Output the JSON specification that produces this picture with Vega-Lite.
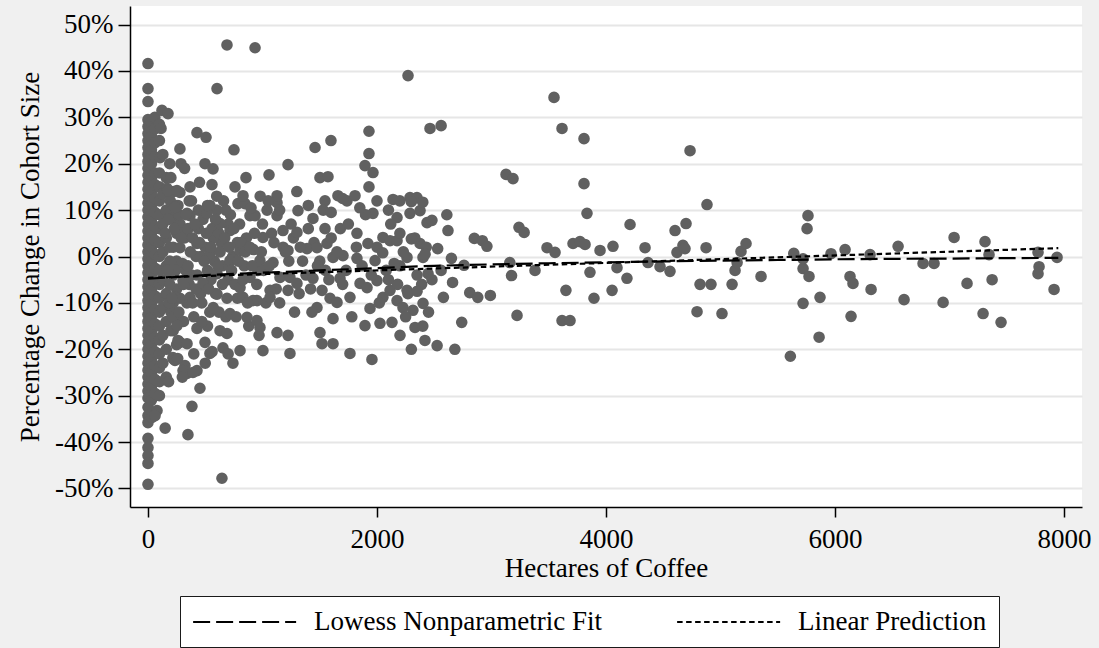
{
"$schema":"https://vega.github.io/schema/vega-lite/v6.json",
"width":952,"height":501,
"autosize":{"type":"none"},
"padding":{"left":130,"top":6,"right":17,"bottom":141},
"background":"#f0f0f0",
"config":{"view":{"fill":"white","stroke":null},"font":"Liberation Serif"},
"layer":[
{"data":{"values":[
{"x":0,"y":41.6},{"x":0,"y":36.2},{"x":0,"y":33.4},{"x":0,"y":29.5},{"x":0,"y":28},{"x":0,"y":26.5},{"x":0,"y":25},{"x":0,"y":23.5},{"x":0,"y":22},{"x":0,"y":20.5},{"x":0,"y":19},{"x":0,"y":17.5},{"x":0,"y":16},{"x":0,"y":14.5},{"x":0,"y":13},{"x":0,"y":11.5},{"x":0,"y":10},{"x":0,"y":8.5},{"x":0,"y":7},{"x":0,"y":5.5},{"x":0,"y":4},{"x":0,"y":2.5},{"x":0,"y":1},{"x":0,"y":-0.5},{"x":0,"y":-2},{"x":0,"y":-3.5},{"x":0,"y":-5},{"x":0,"y":-6.5},{"x":0,"y":-8},{"x":0,"y":-9.5},{"x":0,"y":-11},{"x":0,"y":-12.5},{"x":0,"y":-14},{"x":0,"y":-15.5},{"x":0,"y":-17},{"x":0,"y":-18.5},{"x":0,"y":-20},{"x":0,"y":-21.5},{"x":0,"y":-23},{"x":0,"y":-24.5},{"x":0,"y":-26},{"x":0,"y":-27.5},{"x":0,"y":-29},{"x":0,"y":-30.5},{"x":0,"y":-32.5},{"x":0,"y":-34.3},{"x":0,"y":-35.8},{"x":0,"y":-39.2},{"x":0,"y":-41.2},{"x":0,"y":-42.9},{"x":0,"y":-44.6},{"x":0,"y":-49.1},
{"x":30,"y":29},{"x":30,"y":26},{"x":30,"y":23},{"x":30,"y":20},{"x":30,"y":17},{"x":30,"y":14},{"x":30,"y":11},{"x":30,"y":8},{"x":30,"y":5},{"x":30,"y":2},{"x":30,"y":-1},{"x":30,"y":-4},{"x":30,"y":-7},{"x":30,"y":-10},{"x":30,"y":-13},{"x":30,"y":-16},{"x":30,"y":-19},{"x":30,"y":-22},{"x":30,"y":-25},{"x":30,"y":-28},{"x":30,"y":-31},{"x":35,"y":-34.7},
{"x":60,"y":30},{"x":60,"y":27.5},{"x":60,"y":24.5},{"x":60,"y":21.5},{"x":60,"y":18},{"x":60,"y":15.5},{"x":60,"y":12.5},{"x":60,"y":9.5},{"x":60,"y":6.5},{"x":60,"y":3.5},{"x":60,"y":0.5},{"x":60,"y":-2.5},{"x":60,"y":-5.5},{"x":60,"y":-8.5},{"x":60,"y":-11.5},{"x":60,"y":-14.5},{"x":60,"y":-17.5},{"x":60,"y":-20.5},{"x":60,"y":-23.5},{"x":60,"y":-26.5},{"x":60,"y":-29.5},{"x":79,"y":-33.2},{"x":62,"y":-34.3},
{"x":100,"y":28.5},{"x":100,"y":25},{"x":105,"y":21.3},{"x":100,"y":18},{"x":100,"y":15},{"x":100,"y":12},{"x":100,"y":9},{"x":100,"y":6},{"x":100,"y":3},{"x":100,"y":0},{"x":100,"y":-3},{"x":100,"y":-6},{"x":100,"y":-9},{"x":100,"y":-12},{"x":100,"y":-15},{"x":100,"y":-18},{"x":100,"y":-21},{"x":100,"y":-24},{"x":100,"y":-27},{"x":100,"y":-30},
{"x":122,"y":31.5},{"x":175,"y":30.8},{"x":114,"y":27.6},{"x":130,"y":22},{"x":160,"y":17},{"x":130,"y":13.5},{"x":160,"y":10},{"x":130,"y":7},{"x":160,"y":4},{"x":130,"y":1},{"x":160,"y":-2},{"x":130,"y":-5},{"x":160,"y":-8},{"x":130,"y":-11},{"x":160,"y":-14},{"x":130,"y":-17},{"x":160,"y":-20},{"x":130,"y":-23},{"x":160,"y":-26},{"x":150,"y":-37},
{"x":220,"y":14},{"x":250,"y":11},{"x":220,"y":8},{"x":250,"y":5},{"x":220,"y":2},{"x":250,"y":-1},{"x":220,"y":-4},{"x":250,"y":-7},{"x":220,"y":-10},{"x":250,"y":-13},{"x":220,"y":-16},{"x":250,"y":-19},{"x":220,"y":-22},
{"x":190,"y":20},{"x":200,"y":9.5},{"x":190,"y":-6},{"x":200,"y":-12},{"x":280,"y":7},{"x":300,"y":-1.5},{"x":320,"y":4},{"x":340,"y":-10},{"x":360,"y":12},{"x":380,"y":-4},{"x":420,"y":0},{"x":440,"y":10},{"x":460,"y":-8},{"x":480,"y":8},{"x":520,"y":-3},{"x":540,"y":-12},{"x":560,"y":6},{"x":580,"y":-1},{"x":600,"y":10},{"x":620,"y":-12},{"x":640,"y":3},{"x":660,"y":12},{"x":700,"y":-5},{"x":720,"y":9},{"x":740,"y":0},{"x":780,"y":-9},{"x":800,"y":7},{"x":840,"y":-2},{"x":860,"y":4},{"x":880,"y":-15},{"x":920,"y":1.5},{"x":960,"y":-3},{"x":1000,"y":7},{"x":1030,"y":-10},{"x":1080,"y":5},{"x":1120,"y":-7},{"x":1180,"y":2},{"x":1230,"y":-1},{"x":1270,"y":4},{"x":1320,"y":-8},{"x":1380,"y":-4},{"x":1450,"y":3},{"x":1500,"y":-1},{"x":1580,"y":-5},{"x":1680,"y":6},{"x":1730,"y":-3},
{"x":180,"y":8},{"x":190,"y":-1},{"x":185,"y":-10},{"x":200,"y":-16},{"x":195,"y":12},{"x":240,"y":-3},{"x":270,"y":9},{"x":280,"y":-9},{"x":300,"y":5},{"x":310,"y":-14},{"x":330,"y":-3},{"x":350,"y":6},{"x":360,"y":-6},{"x":390,"y":4},{"x":400,"y":-13},{"x":420,"y":-7},{"x":440,"y":6},{"x":460,"y":0},{"x":470,"y":-10},{"x":500,"y":2},{"x":520,"y":-15},{"x":550,"y":-5},{"x":570,"y":4},{"x":590,"y":-8},{"x":620,"y":5},{"x":650,"y":-2},{"x":680,"y":-13},{"x":700,"y":7},{"x":760,"y":-6},{"x":780,"y":3},
{"x":262,"y":11},{"x":541,"y":11},{"x":786,"y":11.4},{"x":847,"y":11.4},{"x":1127,"y":11.6},{"x":1310,"y":9.9},{"x":1441,"y":8.2},{"x":1546,"y":6},{"x":1546,"y":12},{"x":1738,"y":12},{"x":1965,"y":9.3},{"x":2175,"y":8.4},{"x":2288,"y":9.3},{"x":2376,"y":9.9},{"x":2437,"y":7.3},{"x":367,"y":8.8},{"x":515,"y":9.3},{"x":629,"y":7.1},{"x":716,"y":5.6},{"x":891,"y":8.8},{"x":935,"y":8.8},{"x":1004,"y":4.1},{"x":1127,"y":8.8},{"x":1179,"y":5.6},{"x":1301,"y":5.2},{"x":1223,"y":1.3},{"x":1389,"y":1.7},{"x":1476,"y":1.9},{"x":1563,"y":2.8},{"x":1616,"y":-0.2},{"x":1703,"y":0.2},{"x":1825,"y":-0.4},{"x":1921,"y":2.8},{"x":1983,"y":-0.9},{"x":2052,"y":4.1},{"x":2114,"y":3.4},{"x":2175,"y":3.4},{"x":2262,"y":-0.2},{"x":2376,"y":2.8},{"x":2402,"y":-0.2},{"x":2446,"y":-3.7},{"x":1825,"y":5},{"x":279,"y":1.9},{"x":428,"y":2.8},{"x":541,"y":0.6},{"x":716,"y":-0.9},{"x":804,"y":1.3},{"x":978,"y":-0.9},{"x":1092,"y":-1.3},{"x":1153,"y":-4.5},{"x":1240,"y":-4.5},{"x":1301,"y":-5.8},{"x":1223,"y":-7.3},{"x":1066,"y":-7.3},{"x":1066,"y":-8.8},{"x":1441,"y":-4.7},{"x":1520,"y":-7.3},{"x":1590,"y":-9},{"x":1476,"y":-11},{"x":1432,"y":-12},{"x":1651,"y":-9.9},{"x":1616,"y":-13.4},{"x":1677,"y":-4.7},{"x":1764,"y":-8.8},{"x":1852,"y":-5.8},{"x":1913,"y":-6.7},{"x":1939,"y":-11.2},{"x":2000,"y":-5.2},{"x":2052,"y":-8.8},{"x":2114,"y":-7.3},{"x":2175,"y":-9.5},{"x":2262,"y":-7.3},{"x":2227,"y":-11},{"x":2314,"y":-11.6},{"x":2402,"y":-10.1},{"x":1895,"y":-14.9},{"x":2026,"y":-14.4},{"x":2131,"y":-14.2},{"x":2201,"y":-17},{"x":2332,"y":-15.3},{"x":2419,"y":-18.1},{"x":1502,"y":-16.4},{"x":1520,"y":-18.8},{"x":1616,"y":-18.8},{"x":1764,"y":-20.9},{"x":1956,"y":-22.2},{"x":1240,"y":-20.9},{"x":1127,"y":-16.4},{"x":1223,"y":-17},{"x":1004,"y":-20.3},{"x":804,"y":-20.3},{"x":742,"y":-23},{"x":655,"y":-19.7},{"x":629,"y":-16},{"x":690,"y":-16.6},{"x":541,"y":-20.9},{"x":498,"y":-18.5},{"x":428,"y":-15.5},{"x":279,"y":-18.5},{"x":262,"y":-18.1},{"x":341,"y":-18.8},{"x":341,"y":-25.2},{"x":428,"y":-24.6},{"x":323,"y":-23.5},{"x":454,"y":-28.4},{"x":218,"y":-21.8},{"x":218,"y":-13.1},{"x":236,"y":-8.8},{"x":952,"y":-13.8},{"x":865,"y":-13.1},{"x":978,"y":-15.3},{"x":952,"y":-9.5},{"x":830,"y":-8.8},{"x":716,"y":-12.3},{"x":603,"y":-8.1},{"x":480,"y":-5.8},{"x":367,"y":-8.8},{"x":306,"y":-5.2},{"x":603,"y":-3.7},{"x":804,"y":-6.7},{"x":891,"y":-4.5},{"x":917,"y":-9.5},
{"x":279,"y":23.2},{"x":288,"y":20},{"x":428,"y":26.7},{"x":507,"y":25.7},{"x":498,"y":20},{"x":568,"y":18.9},{"x":559,"y":15.5},{"x":603,"y":36.2},{"x":690,"y":45.6},{"x":935,"y":45},{"x":751,"y":23},{"x":856,"y":17},{"x":1057,"y":17.6},{"x":1223,"y":19.8},{"x":1459,"y":23.5},{"x":1598,"y":25},{"x":1502,"y":17},{"x":1572,"y":17.2},{"x":1930,"y":27},{"x":1930,"y":22.2},{"x":1895,"y":19.6},{"x":1965,"y":18.1},{"x":1930,"y":15},{"x":2271,"y":39},{"x":2463,"y":27.6},{"x":1659,"y":13.1},{"x":1808,"y":13.1},{"x":2140,"y":12.3},{"x":2288,"y":12.7},{"x":2349,"y":12.7},{"x":1127,"y":13.1},{"x":830,"y":13.1},{"x":166,"y":14.7},{"x":279,"y":13.8},{"x":367,"y":15},
{"x":384,"y":-32.3},{"x":349,"y":-38.4},{"x":646,"y":-47.8},{"x":236,"y":-22.4},{"x":306,"y":-24.6},{"x":393,"y":-25},{"x":253,"y":-14.9},{"x":175,"y":14.2},{"x":253,"y":14.2},{"x":236,"y":10.6},{"x":341,"y":9.3},
{"x":150,"y":5},{"x":170,"y":-3},{"x":190,"y":2},{"x":210,"y":-9},{"x":230,"y":6},{"x":270,"y":-12},{"x":290,"y":4},{"x":310,"y":-6},{"x":330,"y":9},{"x":350,"y":-2},{"x":370,"y":1},{"x":390,"y":-10},{"x":410,"y":7},{"x":430,"y":-4},{"x":450,"y":3},{"x":470,"y":-14},{"x":490,"y":-1},{"x":510,"y":5},{"x":530,"y":-7},{"x":550,"y":2},{"x":570,"y":-11},{"x":590,"y":8},{"x":610,"y":-2},{"x":630,"y":1},{"x":650,"y":-6},{"x":670,"y":4},{"x":690,"y":-9},{"x":710,"y":2},{"x":730,"y":-3},{"x":750,"y":6},{"x":770,"y":-13},{"x":790,"y":-1},{"x":810,"y":3},{"x":830,"y":-5},{"x":850,"y":1},{"x":870,"y":-10},{"x":890,"y":2},{"x":910,"y":-2},{"x":930,"y":5},{"x":950,"y":-6},{"x":970,"y":-17},{"x":990,"y":1},{"x":1010,"y":-3},{"x":1040,"y":10},{"x":1060,"y":-2},{"x":1100,"y":3},{"x":1150,"y":-10},{"x":1200,"y":1},{"x":1250,"y":7},{"x":1280,"y":-12},{"x":1330,"y":2},{"x":1350,"y":-1},{"x":1400,"y":6},{"x":1420,"y":-7},{"x":1480,"y":-2},{"x":1530,"y":10},{"x":1550,"y":-3},{"x":1600,"y":4},{"x":1650,"y":1},{"x":1700,"y":-6},{"x":1750,"y":7},{"x":1780,"y":-13},{"x":1820,"y":2},{"x":1870,"y":-2},{"x":1900,"y":9},{"x":1950,"y":-4},{"x":2000,"y":2},{"x":2020,"y":-10},{"x":2080,"y":-3},{"x":2120,"y":7},{"x":2180,"y":-6},{"x":2230,"y":1},{"x":2270,"y":-8},{"x":2330,"y":4},{"x":2390,"y":-6},{"x":2430,"y":2},
{"x":200,"y":17},{"x":320,"y":19},{"x":380,"y":12},{"x":450,"y":16},{"x":520,"y":11},{"x":600,"y":13},{"x":680,"y":10},{"x":760,"y":15},{"x":900,"y":10.5},{"x":980,"y":13},{"x":1050,"y":12},{"x":1150,"y":10},{"x":1300,"y":14},{"x":1400,"y":11},{"x":1600,"y":9.5},{"x":1700,"y":12.5},{"x":1850,"y":10.5},{"x":2000,"y":12},{"x":2100,"y":10},{"x":2200,"y":12},{"x":2300,"y":11.8},{"x":2400,"y":11.7},
{"x":180,"y":-27},{"x":260,"y":-22},{"x":300,"y":-26},{"x":400,"y":-21},{"x":500,"y":-23},{"x":560,"y":-20.5},{"x":700,"y":-21},
{"x":2200,"y":-2},{"x":2300,"y":3.8},{"x":2350,"y":-4},{"x":2420,"y":0.5},{"x":2300,"y":-20},{"x":2400,"y":-15},{"x":2250,"y":-13},{"x":2100,"y":-5},{"x":2150,"y":-1.5},{"x":2050,"y":0.8},{"x":2350,"y":-7.5},{"x":2450,"y":-12},{"x":2200,"y":5},{"x":2480,"y":-5},
{"x":2480,"y":7.8},{"x":2530,"y":1.7},{"x":2560,"y":28.2},{"x":2560,"y":-3},{"x":2580,"y":-8.8},{"x":2525,"y":-19.2},{"x":2680,"y":-20},{"x":2620,"y":5.6},{"x":2610,"y":9},{"x":2650,"y":-0.4},{"x":2660,"y":-5.6},{"x":2740,"y":-14.2},{"x":2760,"y":-1.9},{"x":2810,"y":-7.8},{"x":2880,"y":-8.8},{"x":2850,"y":3.9},{"x":2920,"y":3.4},{"x":2960,"y":2.2},{"x":2990,"y":-8.4},{"x":3127,"y":17.7},{"x":3188,"y":16.8},{"x":3160,"y":-1.3},{"x":3175,"y":-4.1},{"x":3240,"y":6.3},{"x":3285,"y":5.2},{"x":3223,"y":-12.7},{"x":3380,"y":-3},{"x":3485,"y":1.9},{"x":3555,"y":0.9},{"x":3546,"y":34.3},{"x":3616,"y":27.6},{"x":3616,"y":-13.8},{"x":3686,"y":-13.8},{"x":3650,"y":-7.3},{"x":3712,"y":2.8},{"x":3773,"y":3.2},{"x":3817,"y":2.6},{"x":3834,"y":9.3},{"x":3808,"y":15.7},{"x":3808,"y":25.4},{"x":3860,"y":-3.4},{"x":3895,"y":-9},{"x":3948,"y":1.3},{"x":4053,"y":-7.3},{"x":4096,"y":-2.4},{"x":4061,"y":2.2},{"x":4210,"y":6.9},{"x":4183,"y":-4.7},{"x":4341,"y":1.9},{"x":4367,"y":-1.3},{"x":4472,"y":-2.2},{"x":4734,"y":22.8},{"x":4559,"y":-3.2},{"x":4603,"y":5.6},{"x":4699,"y":7.1},{"x":4620,"y":0.9},{"x":4672,"y":2.4},{"x":4690,"y":1.7},{"x":4795,"y":-11.9},{"x":4821,"y":-6},{"x":4882,"y":11.2},{"x":4874,"y":1.9},{"x":4917,"y":-6},{"x":5013,"y":-12.3},{"x":5101,"y":-6},{"x":5127,"y":-3},{"x":5145,"y":-1.3},{"x":5179,"y":1.1},{"x":5223,"y":2.8},{"x":5354,"y":-4.3},
{"x":5610,"y":-21.5},{"x":5640,"y":0.7},{"x":5764,"y":8.8},{"x":5756,"y":6},{"x":5721,"y":-0.5},{"x":5721,"y":-2.6},{"x":5773,"y":-4.3},{"x":5721,"y":-10.1},{"x":5869,"y":-8.8},{"x":5861,"y":-17.4},{"x":5965,"y":0.6},{"x":6088,"y":1.5},{"x":6131,"y":-4.3},{"x":6157,"y":-5.8},{"x":6140,"y":-12.9},{"x":6306,"y":0.4},{"x":6315,"y":-7.1},{"x":6551,"y":2.2},{"x":6603,"y":-9.3},{"x":6769,"y":-1.5},{"x":6865,"y":-1.5},{"x":6944,"y":-9.9},{"x":7040,"y":4.1},{"x":7153,"y":-5.8},{"x":7310,"y":3.2},{"x":7345,"y":0.4},{"x":7372,"y":-5},{"x":7293,"y":-12.3},{"x":7450,"y":-14.2},{"x":7773,"y":0.9},{"x":7782,"y":-2.2},{"x":7773,"y":-3.7},{"x":7939,"y":-0.2},{"x":7913,"y":-7.1}
]},
"mark":{"type":"circle","size":135,"color":"#606060","opacity":1},
"encoding":{
"x":{"field":"x","type":"quantitative","scale":{"domain":[-157,8157],"nice":false,"zero":false},
"axis":{"values":[0,2000,4000,6000,8000],"format":"d","grid":false,"title":"Hectares of Coffee","labelFont":"Liberation Serif","labelFontSize":27,"labelColor":"black","labelPadding":9,"tickSize":10,"tickColor":"black","tickWidth":1.5,"domainColor":"black","domainWidth":1.5,"titleFont":"Liberation Serif","titleFontSize":27,"titleFontWeight":"normal","titleColor":"black","titlePadding":3,"labelFlush":false}},
"y":{"field":"y","type":"quantitative","scale":{"domain":[-54,54],"nice":false,"zero":false},
"axis":{"values":[-50,-40,-30,-20,-10,0,10,20,30,40,50],"labelExpr":"datum.value + '%'","grid":true,"gridColor":"#e6e6e6","gridWidth":2,"title":"Percentage Change in Cohort Size","labelFont":"Liberation Serif","labelFontSize":27,"labelColor":"black","labelPadding":5,"tickSize":12,"tickColor":"black","tickWidth":1.5,"domainColor":"black","domainWidth":1.5,"titleFont":"Liberation Serif","titleFontSize":27,"titleFontWeight":"normal","titleColor":"black","titlePadding":10}}
}},
{"data":{"values":[
{"fit":"Lowess Nonparametric Fit","x":0,"y":-4.8},{"fit":"Lowess Nonparametric Fit","x":500,"y":-4.0},{"fit":"Lowess Nonparametric Fit","x":1000,"y":-3.5},{"fit":"Lowess Nonparametric Fit","x":1300,"y":-3.2},{"fit":"Lowess Nonparametric Fit","x":1900,"y":-2.6},{"fit":"Lowess Nonparametric Fit","x":2500,"y":-2.0},{"fit":"Lowess Nonparametric Fit","x":3000,"y":-1.7},{"fit":"Lowess Nonparametric Fit","x":3500,"y":-1.45},{"fit":"Lowess Nonparametric Fit","x":4000,"y":-1.25},{"fit":"Lowess Nonparametric Fit","x":4500,"y":-1.05},{"fit":"Lowess Nonparametric Fit","x":5000,"y":-0.9},{"fit":"Lowess Nonparametric Fit","x":5500,"y":-0.75},{"fit":"Lowess Nonparametric Fit","x":6000,"y":-0.6},{"fit":"Lowess Nonparametric Fit","x":6500,"y":-0.5},{"fit":"Lowess Nonparametric Fit","x":7000,"y":-0.45},{"fit":"Lowess Nonparametric Fit","x":7500,"y":-0.35},{"fit":"Lowess Nonparametric Fit","x":7950,"y":-0.3},
{"fit":"Linear Prediction","x":0,"y":-4.6},{"fit":"Linear Prediction","x":7950,"y":1.8}
]},
"mark":{"type":"line","color":"black","strokeWidth":2.2},
"encoding":{
"x":{"field":"x","type":"quantitative"},
"y":{"field":"y","type":"quantitative"},
"strokeDash":{"field":"fit","type":"nominal","scale":{"domain":["Lowess Nonparametric Fit","Linear Prediction"],"range":[[17,6],[5.5,3.5]]},
"legend":{"orient":"none","legendX":50,"legendY":590,"direction":"horizontal","title":null,"symbolType":"M-1,0H7","symbolSize":663,"symbolStrokeWidth":2,"symbolStrokeColor":"black","labelFont":"Liberation Serif","labelFontSize":27,"labelColor":"black","labelOffset":94,"columnPadding":71,"padding":12,"fillColor":"white","strokeColor":"#1a1a1a","labelLimit":0}}
}}
]
}
